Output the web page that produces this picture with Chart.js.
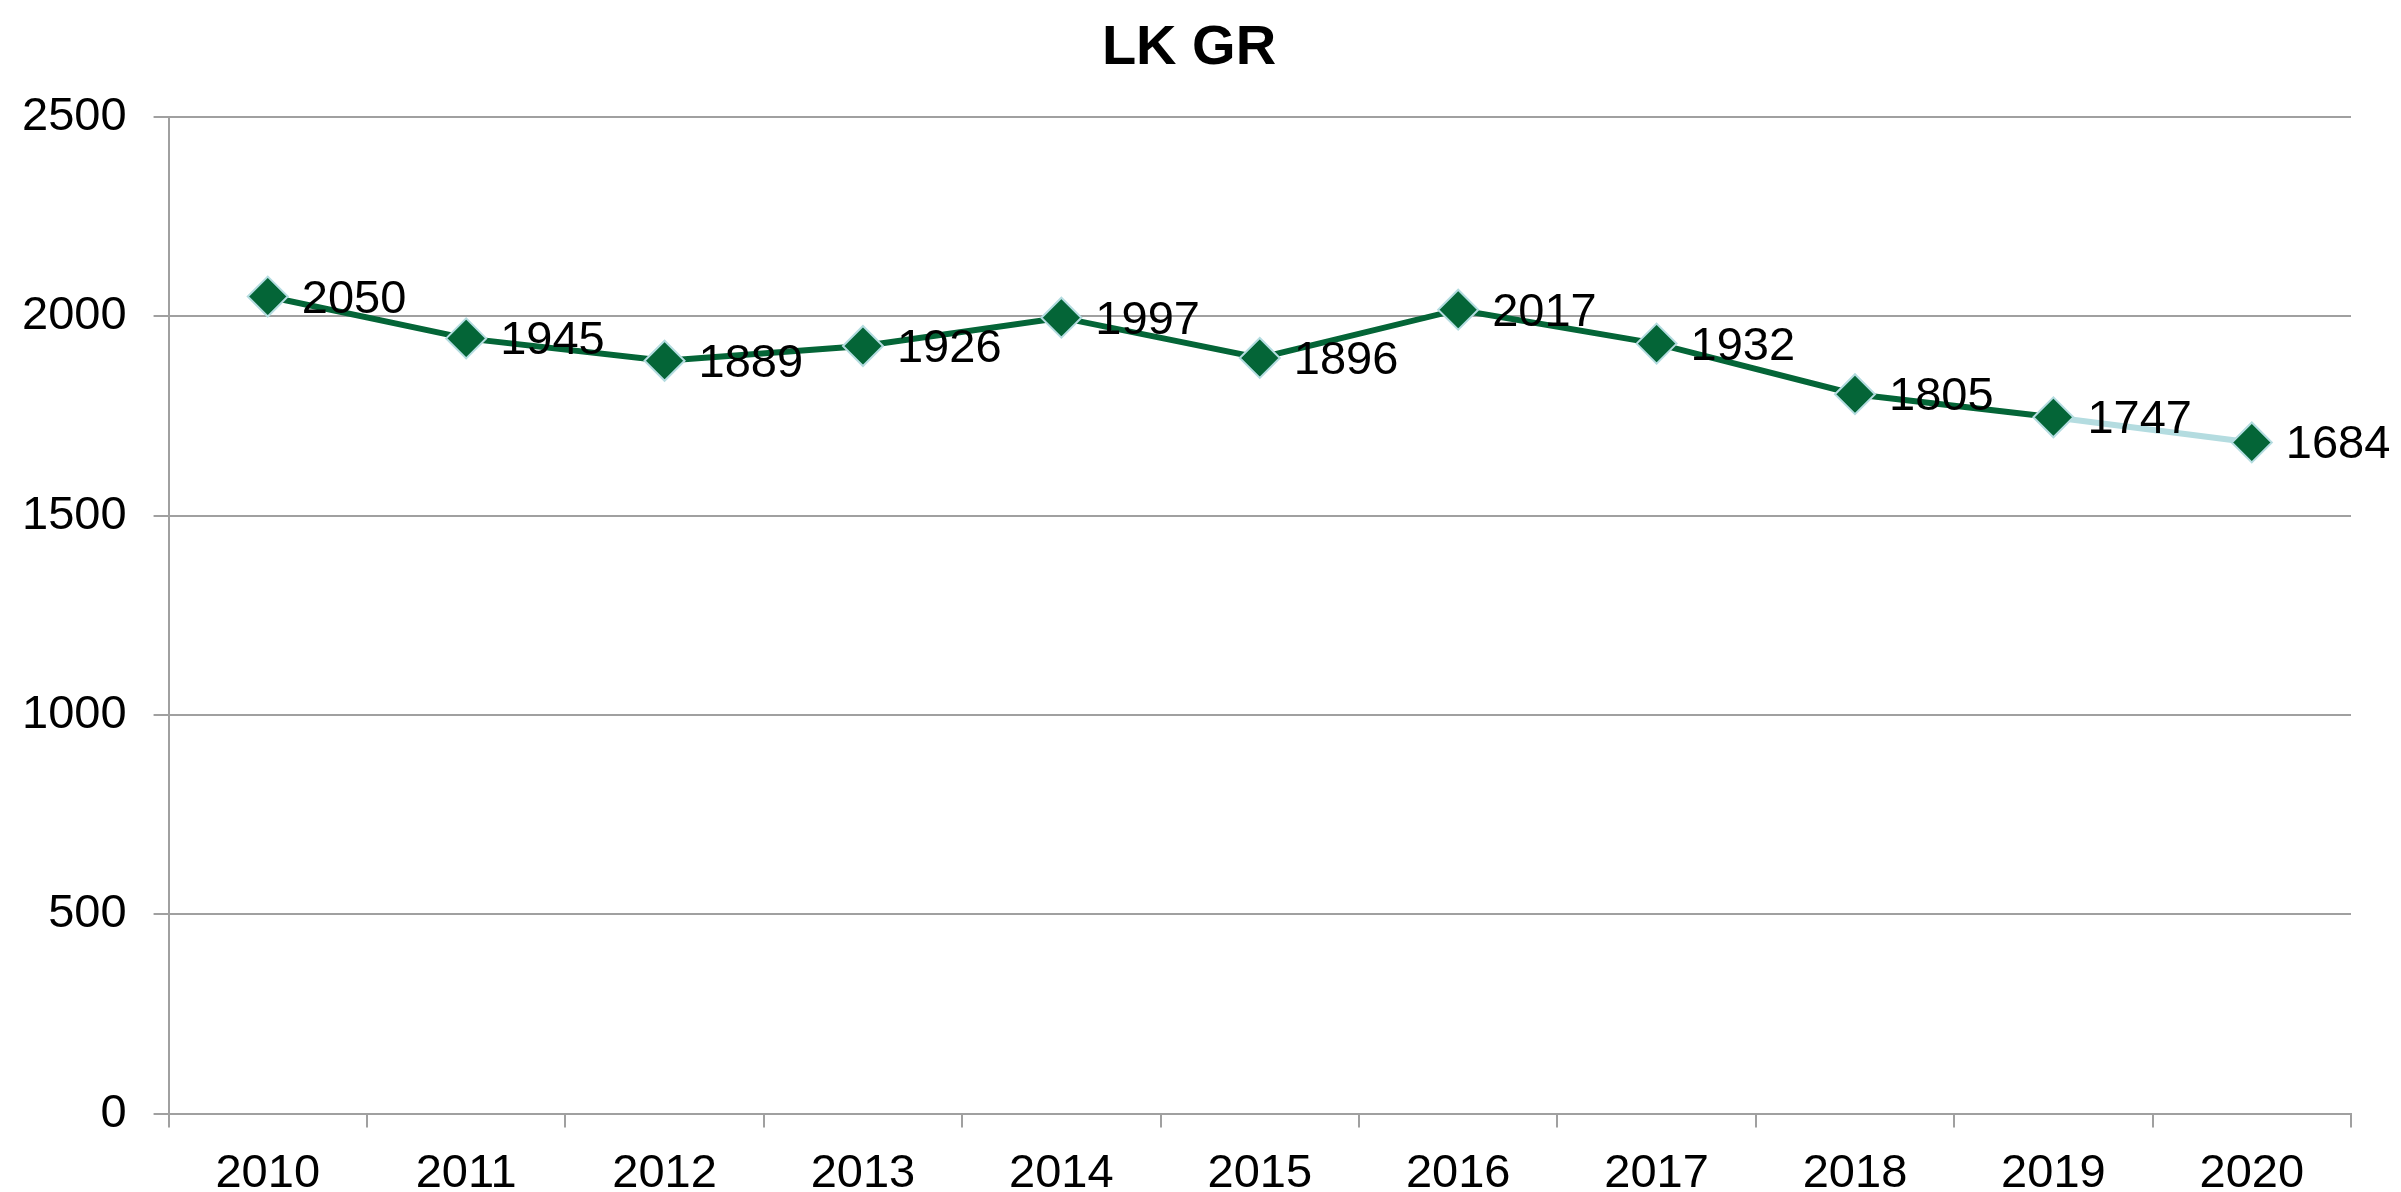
<!DOCTYPE html>
<html lang="de">
<head>
    <meta charset="UTF-8">
    <title>LK GR</title>
    <script src="https://cdn.jsdelivr.net/npm/chart.js"></script>
    <style>
        html, body { margin: 0; padding: 0; background: #ffffff; }
        #wrap { width: 2401px; height: 1192px; }
    </style>
</head>
<body>
    <div id="wrap">
        <canvas id="lkChart" width="2401" height="1192"></canvas>
    </div>

    <script>
        // Jahre und Werte
        var jahre = ['2010', '2011', '2012', '2013', '2014', '2015', '2016', '2017', '2018', '2019', '2020'];
        var werte = [2050, 1945, 1889, 1926, 1997, 1896, 2017, 1932, 1805, 1747, 1684];
        var yTicks = [0, 500, 1000, 1500, 2000, 2500];

        var gruen = '#046537';
        var hellblau = '#b4dce0';
        var grau = '#a0a0a0';
        var schrift = 'Liberation Sans, Arial, sans-serif';

        // Datenbeschriftungen rechts neben den Punkten
        var labelPlugin = {
            id: 'werteLabels',
            afterLayout: function (chart) {
                // Titel etwas nach rechts schieben
                if (chart.titleBlock) {
                    chart.titleBlock.left += 32;
                }
            },
            afterDatasetsDraw: function (chart) {
                var ctx = chart.ctx;
                var meta = chart.getDatasetMeta(0);
                ctx.save();
                ctx.font = '47px ' + schrift;
                ctx.fillStyle = '#000000';
                ctx.textAlign = 'left';
                ctx.textBaseline = 'middle';
                meta.data.forEach(function (pt, i) {
                    ctx.fillText(String(werte[i]), pt.x + 34, pt.y + 3);
                });
                ctx.restore();
            }
        };

        var lkChart = new Chart(document.getElementById('lkChart'), {
            type: 'line',
            data: {
                labels: jahre,
                datasets: [{
                    label: 'LK GR',
                    data: werte,
                    borderColor: gruen,
                    borderWidth: 6,
                    fill: false,
                    tension: 0,
                    pointStyle: 'rectRot',
                    pointRadius: 20,
                    pointBackgroundColor: gruen,
                    pointBorderColor: hellblau,
                    pointBorderWidth: 2,
                    segment: {
                        // letzte Strecke hellblau
                        borderColor: function (c) {
                            return c.p1DataIndex === werte.length - 1 ? hellblau : gruen;
                        }
                    }
                }]
            },
            options: {
                responsive: false,
                animation: false,
                layout: {
                    padding: { left: -5, right: 50, top: 0, bottom: -28 }
                },
                plugins: {
                    legend: { display: false },
                    tooltip: { enabled: false },
                    title: {
                        display: true,
                        text: 'LK GR',
                        color: '#000000',
                        font: { family: schrift, size: 56, weight: 'bold' },
                        padding: { top: 15, bottom: 35 }
                    }
                },
                scales: {
                    x: {
                        offset: true,
                        grid: {
                            offset: true,
                            drawOnChartArea: false,
                            drawTicks: true,
                            tickLength: 14,
                            color: grau,
                            lineWidth: 2
                        },
                        border: { display: true, color: grau, width: 2 },
                        ticks: {
                            color: '#000000',
                            padding: 18,
                            maxRotation: 0,
                            font: { family: schrift, size: 47 }
                        }
                    },
                    y: {
                        min: 0,
                        max: 2500,
                        afterBuildTicks: function (axis) {
                            axis.ticks = yTicks.map(function (v) { return { value: v }; });
                        },
                        grid: {
                            color: grau,
                            lineWidth: 2,
                            tickLength: 15
                        },
                        border: { display: true, color: grau, width: 2 },
                        ticks: {
                            color: '#000000',
                            padding: 27,
                            font: { family: schrift, size: 47 },
                            callback: function (v) { return String(v); }
                        }
                    }
                }
            },
            plugins: [labelPlugin]
        });
    </script>
</body>
</html>
